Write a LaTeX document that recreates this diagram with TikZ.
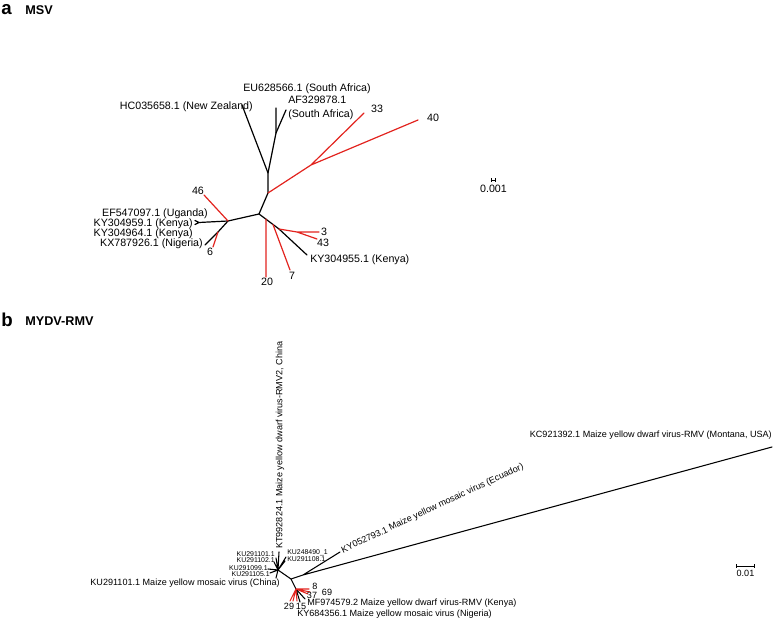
\documentclass[tikz,border=0pt]{standalone}
\usepackage{fontspec}
\setmainfont{Liberation Sans}
\usepackage{tikz}
\usetikzlibrary{arrows.meta}
\definecolor{cladered}{RGB}{226,35,30}

\begin{document}
\begin{tikzpicture}[x=0.75pt,y=-0.75pt,
  br/.style={line width=0.9pt,line cap=round},
  rbr/.style={line width=0.9pt,line cap=round,cladered},
  lab/.style={inner sep=0pt,font=\fontsize{8}{10.5}\selectfont},
  labb/.style={inner sep=0pt,font=\fontsize{6.8}{8}\selectfont},
  labs/.style={inner sep=0pt,font=\fontsize{5.2}{6}\selectfont},
  panel/.style={inner sep=0pt,anchor=west,font=\fontsize{14}{16}\bfseries},
  ptitle/.style={inner sep=0pt,anchor=west,font=\fontsize{9.5}{11}\bfseries}]
\useasboundingbox (0,0) rectangle (775,623);
\node[panel] (pa) at (1,10) {a};
\node[ptitle] (ta) at (25,10) {MSV};
\node[panel] (pb) at (1,320) {b};
\node[ptitle] (tb) at (25,321) {MYDV-RMV};
% MSV tree
\coordinate (n1) at (276,133);
\coordinate (n2) at (268,173);
\coordinate (n3) at (268,193);
\coordinate (n4) at (311,165);
\coordinate (n5) at (259,214);
\coordinate (n6) at (228,221);
\coordinate (n7) at (218,232);
\coordinate (n8) at (266,219);
\coordinate (n9) at (273,224.5);
\coordinate (n10) at (279,229);
\coordinate (n11) at (297,232);
\coordinate (n12) at (199,222.5);
\coordinate (eu) at (276,108);
\coordinate (af) at (286,110);
\coordinate (hc) at (242,105);
\coordinate (t33) at (364,113);
\coordinate (t40) at (418,120);
\coordinate (t46) at (204,195);
\coordinate (ef) at (195,220.5);
\coordinate (ky59) at (195,224.5);
\coordinate (kx) at (205,245);
\coordinate (t6) at (213,247);
\coordinate (t20) at (266,277);
\coordinate (t7) at (290,270);
\coordinate (kyk) at (307,255);
\coordinate (t3) at (319,232);
\coordinate (t43) at (317,239);
\draw[br] (eu)--(n1)--(n2)--(n3)--(n5)--(n6)--(n12)--(ef) (n12)--(ky59);
\draw[br] (af)--(n1) (hc)--(n2) (n6)--(n7)--(kx) (n5)--(n10)--(kyk);
\draw[rbr] (n3)--(n4)--(t33) (n4)--(t40) (n6)--(t46) (n7)--(t6);
\draw[rbr] (n8)--(t20) (n9)--(t7) (n10)--(n11)--(t3) (n11)--(t43);
\node[lab,anchor=west] (leu) at (243,89) {EU628566.1 (South Africa)};
\node[lab,anchor=north west,align=left] (laf) at (288,96) {AF329878.1\\(South Africa)};
\node[lab,anchor=east] (lhc) at (253,107) {HC035658.1 (New Zealand)};
\node[lab] (l33) at (377,109) {33};
\node[lab] (l40) at (433,118) {40};
\node[lab] (l46) at (198,191) {46};
\node[lab,anchor=east] (lef) at (208,214) {EF547097.1 (Uganda)};
\node[lab,anchor=east] (lky59) at (193,224) {KY304959.1 (Kenya)};
\node[lab,anchor=east] (lky64) at (193,234) {KY304964.1 (Kenya)};
\node[lab,anchor=east] (lkx) at (203,244) {KX787926.1 (Nigeria)};
\node[lab] (l6) at (210,252) {6};
\node[lab] (l3) at (324,232) {3};
\node[lab] (l43) at (323,243) {43};
\node[lab,anchor=west] (lkyk) at (310,260) {KY304955.1 (Kenya)};
\node[lab] (l7) at (292,276) {7};
\node[lab] (l20) at (267,282) {20};
\coordinate (sa1) at (491,180);
\coordinate (sa2) at (496,180);
\draw[line width=0.7pt,{Bar[width=2.5pt]}-{Bar[width=2.5pt]}] (sa1)--(sa2);
\node[lab] (lsa) at (493.5,189) {0.001};
% MYDV-RMV tree
\coordinate (c0) at (278,570);
\coordinate (m1) at (291,579);
\coordinate (m2) at (303,575);
\coordinate (m3) at (296,589);
\coordinate (kc) at (772,447);
\coordinate (kye) at (340,552);
\coordinate (kt) at (279,552);
\coordinate (ku01) at (276,558);
\coordinate (ku02) at (274,562);
\coordinate (ku99) at (268,569);
\coordinate (ku05) at (270,573);
\coordinate (ku490) at (286,557);
\coordinate (ku08) at (285,561);
\coordinate (kuch) at (276,578);
\coordinate (r29) at (290,601);
\coordinate (r2) at (293,601);
\coordinate (r15) at (297,601);
\coordinate (kyn) at (300,602);
\coordinate (mf) at (305,599);
\coordinate (r8) at (309,589);
\coordinate (r37) at (310,592);
\coordinate (r69) at (308,594);
\draw[br,line width=0.8pt] (c0)--(m1)--(m2)--(kc) (m2)--(kye) (m1)--(m3)--(kyn) (m3)--(mf);
\draw[br,line width=0.8pt] (c0)--(kt) (c0)--(ku01) (c0)--(ku02) (c0)--(ku99) (c0)--(ku05) (c0)--(ku490) (c0)--(ku08) (c0)--(kuch);
\draw[rbr,line width=0.8pt] (m3)--(r29) (m3)--(r2) (m3)--(r15) (m3)--(r8) (m3)--(r37) (m3)--(r69);
\node[labb,anchor=east] (lkc) at (772,435) {KC921392.1 Maize yellow dwarf virus-RMV (Montana, USA)};
\node[labb,anchor=west,rotate=25] (lkye) at (342,551) {KY052793.1 Maize yellow mosaic virus (Ecuador)};
\node[labb,anchor=west,rotate=90] (lkt) at (280,549) {KT992824.1 Maize yellow dwarf virus-RMV2, China};
\node[labs,anchor=east] (lku01) at (275,554) {KU291101.1};
\node[labs,anchor=east] (lku02) at (275,560) {KU291102.1};
\node[labs,anchor=east] (lku99) at (268,568) {KU291099.1};
\node[labs,anchor=east] (lku05) at (270,574) {KU291105.1};
\node[labs,anchor=west] (lku490) at (287,553) {KU248490\_1};
\node[labs,anchor=west] (lku08) at (287,559) {KU291108.1};
\node[labb,anchor=east] (lkuch) at (280,583) {KU291101.1 Maize yellow mosaic virus (China)};
\node[labb] (l8) at (315,586) {8};
\node[labb] (l37) at (312,595) {37};
\node[labb] (l69) at (327,592.5) {69};
\node[labb] (l29) at (289,606) {29};
\node[labb] (l15) at (301,606) {15};
\node[labb,anchor=west] (lmf) at (307,603) {MF974579.2 Maize yellow dwarf virus-RMV (Kenya)};
\node[labb,anchor=west] (lkyn) at (297,614) {KY684356.1 Maize yellow mosaic virus (Nigeria)};
\coordinate (sb1) at (736,566);
\coordinate (sb2) at (755,566);
\draw[line width=0.7pt,{Bar[width=2.5pt]}-{Bar[width=2.5pt]}] (sb1)--(sb2);
\node[labb] (lsb) at (745.5,573) {0.01};
\end{tikzpicture}
\end{document}
